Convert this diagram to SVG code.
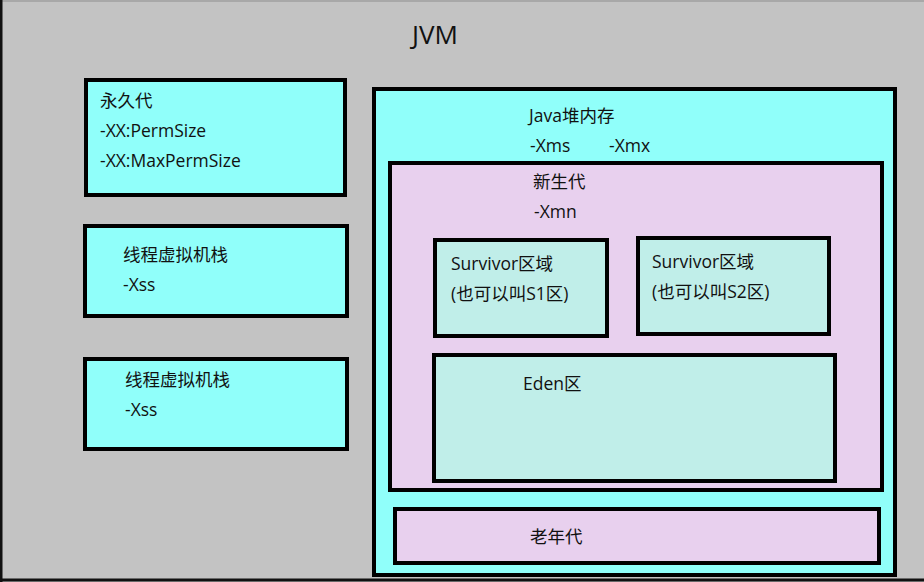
<svg xmlns="http://www.w3.org/2000/svg" width="924" height="582" viewBox="0 0 924 582">
<style>
text{font-family:"Open Sans","Noto Sans CJK SC",sans-serif;font-size:17.5px;fill:#111}
.b{stroke:#000;stroke-width:4}
.cy{fill:#90fffa}
.lv{fill:#e8d0ee}
.tl{fill:#c0eee9}
</style>
<rect x="0" y="0" width="924" height="582" fill="#c3c3c3"/>
<line x1="0" y1="1" x2="924" y2="1" stroke="#a8a8a8" stroke-width="2"/>
<line x1="1" y1="0" x2="1" y2="582" stroke="#111" stroke-width="3"/>
<line x1="0" y1="580" x2="924" y2="580" stroke="#111" stroke-width="3"/>
<g id="jvm"><text x="412" y="44" style="font-size:26px">JVM</text></g>
<g id="perm">
<rect class="b cy" x="86" y="80" width="259" height="115"/>
<text x="100" y="107">永久代</text>
<text x="100" y="137">-XX:PermSize</text>
<text x="100" y="167">-XX:MaxPermSize</text>
</g>
<g id="stack1">
<rect class="b cy" x="85" y="226" width="262" height="90"/>
<text x="123" y="261">线程虚拟机栈</text>
<text x="123" y="291">-Xss</text>
</g>
<g id="stack2">
<rect class="b cy" x="85" y="359" width="262" height="90"/>
<text x="125" y="386">线程虚拟机栈</text>
<text x="125" y="416">-Xss</text>
</g>
<g id="heap">
<rect class="b cy" x="374" y="89" width="521" height="486"/>
<text x="529" y="122">Java堆内存</text>
<text x="530" y="152">-Xms</text>
<text x="609" y="152">-Xmx</text>
</g>
<g id="young">
<rect class="b lv" x="390" y="163" width="492" height="327"/>
<text x="533" y="188">新生代</text>
<text x="534" y="218">-Xmn</text>
</g>
<g id="s1">
<rect class="b tl" x="435" y="240" width="172" height="96"/>
<text x="451" y="270">Survivor区域</text>
<text x="451" y="300">(也可以叫S1区)</text>
</g>
<g id="s2">
<rect class="b tl" x="638" y="238" width="191" height="96"/>
<text x="652" y="268">Survivor区域</text>
<text x="652" y="298">(也可以叫S2区)</text>
</g>
<g id="eden">
<rect class="b tl" x="434" y="355" width="401" height="126"/>
<text x="523" y="390">Eden区</text>
</g>
<g id="old">
<rect class="b lv" x="395" y="509" width="484" height="54"/>
<text x="530" y="543">老年代</text>
</g>
<g id="connectors"/>
</svg>
